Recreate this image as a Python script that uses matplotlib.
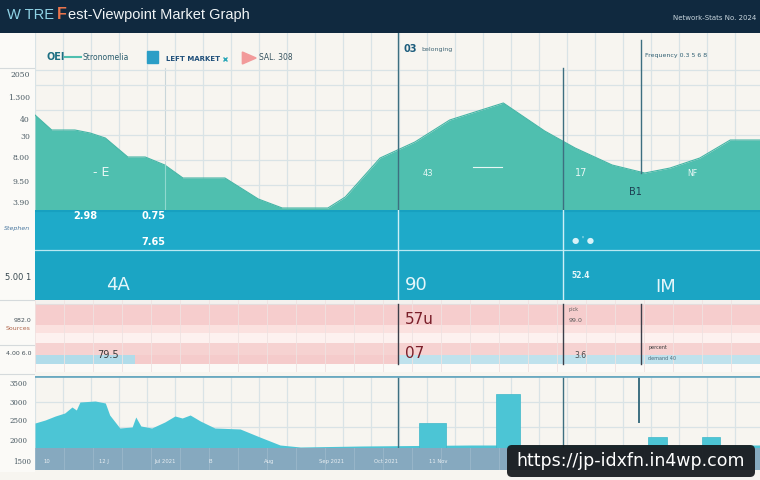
import matplotlib
matplotlib.use("Agg")
import matplotlib.pyplot as plt
from matplotlib.patches import FancyBboxPatch, Rectangle, Polygon
from matplotlib.ticker import MultipleLocator

W, H = 760, 480

def rect(x0, y0, x1, y1):
    return [x0 / W, 1 - y1 / H, (x1 - x0) / W, (y1 - y0) / H]

# ---------------- data ----------------
# upper teal area series (time index 0..100, value)
top_t = [0, 2.3, 5.5, 7.6, 9.7, 12.8, 15.2, 17.9, 20.4, 26.2, 30.8, 34.1, 40.4,
         42.8, 47.6, 52.4, 57.2, 64.6, 70.3, 74.5, 79.6, 84.1, 87.6, 91.7, 95.9, 100]
top_v = [95, 80, 80, 77, 72, 53, 53, 45, 32, 32, 11, 2, 2,
         13, 52, 68, 90, 107, 79, 62, 45, 37, 42, 52, 70, 70]

# lower cyan area series
low_t = [0, 1.4, 2.8, 4.1, 5.1, 5.7, 6.2, 8.3, 9.7, 10.3, 11.7, 13.4, 13.9, 14.6,
         16.1, 17.9, 19.3, 20.3, 21.4, 22.8, 24.8, 28.3, 31.0, 33.8, 36.6, 45, 60, 80, 100]
low_v = [25, 28, 32, 35, 41, 38, 46, 47, 45, 33, 20, 21, 31, 22,
         20, 26, 32, 30, 33, 27, 20, 19, 11, 3, 1, 2, 3, 3, 3]

# lower bars
bar_t = [54.8, 65.2, 85.9, 93.2]
bar_w = [3.7, 3.3, 2.6, 2.5]
bar_v = [25, 54, 11, 11]

top_labels = ["2050", "1.300", "40", "30", "8.00", "9.50", "3.90"]
top_label_v = [135, 112, 90, 73, 52, 28, 7]
low_labels = ["3500", "3000", "2500", "2000"]
low_label_v = [64, 45, 27, 7]
strip_labels = ["10", "12 J", "Jul 2021", "B", "Aug", "Sep 2021", "Oct 2021", "11 Nov"]

# --------------- style ---------------
BG = "#f7f5f0"
NAVY = "#10293f"
TEAL = "#4fbfaf"
BLUE = "#1eaac9"
CYAN = "#4cc5d5"
GRID = "#d9e3e6"
DARKLINE = "#3d6f80"

fig = plt.figure(figsize=(7.6, 4.8), dpi=100)
fig.patch.set_facecolor(BG)

# header
hdr = fig.add_axes(rect(0, 0, 760, 33))
hdr.set_facecolor(NAVY)
hdr.set_xticks([]); hdr.set_yticks([])
for s in hdr.spines.values():
    s.set_visible(False)
hdr.text(7 / 760, 0.55, "W TRE", color="#8fd3e6", fontsize=10.5, family="Liberation Sans",
         va="center", transform=hdr.transAxes)
hdr.text(57 / 760, 0.55, "F", color="#e9744c", fontsize=11.5, fontweight="bold",
         family="Liberation Sans", va="center", transform=hdr.transAxes)
hdr.text(68 / 760, 0.55, "est-Viewpoint Market Graph", color="#f0f4f6", fontsize=10.5,
         family="Liberation Sans", va="center", transform=hdr.transAxes)
hdr.text(0.995, 0.45, "Network-Stats No. 2024", color="#c9d6de", fontsize=5,
         ha="right", va="center", transform=hdr.transAxes)

# left label column
lc = fig.add_axes(rect(0, 33, 35, 472))
lc.set_facecolor("#fbfaf7")
lc.set_xlim(0, 1); lc.set_ylim(472, 33)
lc.set_xticks([]); lc.set_yticks([])
for s in lc.spines.values():
    s.set_visible(False)
for yy in [68, 300, 345, 374]:
    lc.axhline(yy, color="#d5dadc", lw=0.8)

# ---------------- top teal area ----------------
ax = fig.add_axes(rect(35, 33, 760, 210))
ax.set_facecolor(BG)
ax.set_xlim(0, 100)
ax.set_ylim(0, 177)
ax.xaxis.set_major_locator(MultipleLocator(3.86))
ax.set_yticks([25, 50, 75, 100, 125, 140])
ax.grid(True, color=GRID, lw=0.9)
ax.tick_params(length=0, labelbottom=False, labelleft=False)
for s in ax.spines.values():
    s.set_visible(False)
ax.fill_between(top_t, 0, top_v, color=TEAL, lw=0, zorder=2)
ax.plot(top_t, top_v, color="#45b5a6", lw=0.8, zorder=2)
# emphasised vertical lines
ax.plot([50.0, 50.0], [0, 177], color=DARKLINE, lw=1.0, zorder=3)
ax.plot([72.8, 72.8], [0, 142], color=DARKLINE, lw=1.0, zorder=3)
ax.plot([83.6, 83.6], [37, 170], color=DARKLINE, lw=1.0, zorder=3)
ax.plot([17.9, 17.9], [0, 142], color="#c9d6da", lw=0.8, zorder=1)
ax.plot([17.9, 17.9], [0, 45], color="#8fd9cf", lw=0.8, zorder=3)

for lab, v in zip(top_labels, top_label_v):
    ax.text(-0.7, v, lab, color="#4a5a63", fontsize=5.5, ha="right", va="center",
            family="DejaVu Serif", clip_on=False)

# legend row
ax.text(1.6, 153, "OEI", color="#1d6f82", fontsize=7, fontweight="bold", va="center")
ax.plot([4.2, 6.3], [153, 153], color=TEAL, lw=1.5)
ax.text(6.6, 153, "Stronomelia", color="#2a5d6e", fontsize=5.5, va="center")
ax.add_patch(Rectangle((15.5, 147), 1.4, 12, color="#2b9ec6", zorder=4))
ax.text(18, 151, "LEFT MARKET", color="#1f4f7a", fontsize=5, va="center", fontweight="bold")
ax.plot([26.2], [151], marker="x", color="#2aa7b8", ms=3)
ax.add_patch(Polygon([[28.6, 146], [28.6, 158], [30.5, 152]], closed=True,
                     color="#f29a9a", zorder=4))
ax.text(30.9, 153, "SAL. 308", color="#36535f", fontsize=5.5, va="center")
ax.text(50.8, 161, "03", color="#1c5c7c", fontsize=7, fontweight="bold", va="center")
ax.text(53.3, 160, "belonging", color="#3f6575", fontsize=4.5, va="center")
ax.text(84.2, 155, "Frequency 0.3 5 6 8", color="#2f5f72", fontsize=4.5, va="center")

# texts inside the teal area
ax.text(8.0, 37, "- E", color="#e8f7f5", fontsize=9, va="center", zorder=4)
ax.text(53.5, 37, "43", color="#e8f7f5", fontsize=6, va="center", zorder=4)
ax.plot([60.4, 64.4], [43, 43], color="#e8f7f5", lw=0.8, zorder=4)
ax.text(74.5, 37, "17", color="#e8f7f5", fontsize=7, va="center", zorder=4)
ax.text(82.0, 18, "B1", color="#1d3f52", fontsize=7, va="center", zorder=4)
ax.text(90.0, 37, "NF", color="#e8f7f5", fontsize=5.5, va="center", zorder=4)

# ---------------- blue band ----------------
bb = fig.add_axes(rect(35, 210, 760, 300))
bb.set_facecolor(BLUE)
bb.set_xlim(0, 100); bb.set_ylim(0, 90)
bb.set_xticks([]); bb.set_yticks([])
for s in bb.spines.values():
    s.set_visible(False)
bb.axhspan(0, 50, color="#1ba5c4", lw=0)
bb.axhline(50, color="#b9e8f2", lw=0.9)
bb.axhline(89, color="#17a0c0", lw=1.5)
bb.axvline(50.0, color="#cdeff6", lw=1.0)
bb.axvline(72.8, color="#cdeff6", lw=1.0)
bb.text(5.3, 84, "2.98", color="white", fontsize=7, fontweight="bold", va="center")
bb.text(14.7, 84, "0.75", color="white", fontsize=7, fontweight="bold", va="center")
bb.text(14.7, 58, "7.65", color="white", fontsize=7, fontweight="bold", va="center")
bb.text(9.8, 15, "4A", color="#e4f6fa", fontsize=13, va="center")
bb.text(51.0, 15, "90", color="#e4f6fa", fontsize=13, va="center")
bb.text(74.0, 24, "52.4", color="#e4f6fa", fontsize=5.5, va="center", fontweight="bold")
bb.text(85.5, 13, "IM", color="#e4f6fa", fontsize=13, va="center")
bb.text(74.0, 60, "● ' ●", color="#d7f2f8", fontsize=6, va="center")
fig.text(30 / 760, 1 - 230 / 480, "Stephen", color="#4a78a0", fontsize=4.5, ha="right",
         style="italic")
fig.text(31 / 760, 1 - 280 / 480, "5.00 1", color="#384850", fontsize=6, ha="right")

# ---------------- pink striped band ----------------
pk = fig.add_axes(rect(35, 300, 760, 372))
pk.set_facecolor("#fdf6f4")
pk.set_xlim(0, 100); pk.set_ylim(72, 0)
pk.set_xticks([]); pk.set_yticks([])
for s in pk.spines.values():
    s.set_visible(False)
stripes = [(0, 4, "#f4f1ee"), (4, 25, "#f6cdcd"), (25, 33, "#fbe1df"),
           (33, 43, "#fdf1ef"), (43, 55, "#f6d2d1"), (55, 64, "#f5cbcb"), (64, 72, "#fbf9f6")]
for a, b, c in stripes:
    pk.axhspan(a, b, color=c, lw=0)
pk.axhline(4, color="#e4dede", lw=0.8)
pk.add_patch(Rectangle((0, 55), 13.8, 9, color="#b1dcea", lw=0))
pk.add_patch(Rectangle((50, 55), 50, 9, color="#bfe2ed", lw=0))
for xv in range(0, 101, 4):
    pk.axvline(xv, color="#efe2e1", lw=0.6)
pk.plot([50, 50], [4, 64], color="#3b3f4a", lw=1.0)
pk.plot([72.8, 72.8], [4, 64], color="#3b3f4a", lw=1.0)
pk.plot([83.6, 83.6], [4, 64], color="#3b3f4a", lw=1.0)
pk.text(51.0, 20, "57u", color="#7a1f2a", fontsize=11, va="center")
pk.text(51.0, 53, "07", color="#7a1f2a", fontsize=11, va="center")
pk.text(8.6, 55, "79.5", color="#3a3a3a", fontsize=7, va="center")
pk.text(73.6, 10, "pick", color="#5a5a5a", fontsize=3.5, va="center")
pk.text(73.6, 20, "99.0", color="#5a5a5a", fontsize=4.5, va="center")
pk.text(74.4, 55, "3.6", color="#4a4a4a", fontsize=5.5, va="center")
pk.text(84.6, 48, "percent", color="#3a3a3a", fontsize=3.5, va="center")
pk.text(84.6, 59, "demand 40", color="#4a6a7a", fontsize=3.5, va="center")
fig.text(31 / 760, 1 - 330 / 480, "Sources", color="#b0654a", fontsize=4.5, ha="right")
fig.text(31 / 760, 1 - 322 / 480, "982.0", color="#445058", fontsize=4.5, ha="right")
fig.text(31 / 760, 1 - 355 / 480, "4.00 6.0", color="#445058", fontsize=4.5, ha="right")

# ---------------- lower area + bars ----------------
lo = fig.add_axes(rect(35, 376, 760, 448))
lo.set_facecolor(BG)
lo.set_xlim(0, 100); lo.set_ylim(0, 72)
lo.xaxis.set_major_locator(MultipleLocator(3.86))
lo.set_yticks([21, 46])
lo.grid(True, color=GRID, lw=0.9)
lo.tick_params(length=0, labelbottom=False, labelleft=False)
for s in lo.spines.values():
    s.set_visible(False)
lo.axhline(72, color="#6aa9c0", lw=2.0, zorder=5)
lo.fill_between(low_t, 0, low_v, color=CYAN, lw=0, zorder=2)
lo.bar(bar_t, bar_v, width=bar_w, color=CYAN, edgecolor="#3fb8c9", lw=0.5, zorder=2)
lo.plot([50.0, 50.0], [0, 72], color=DARKLINE, lw=1.0, zorder=3)
lo.plot([72.8, 72.8], [0, 72], color=DARKLINE, lw=1.0, zorder=3)
lo.plot([83.3, 83.3], [26, 72], color=DARKLINE, lw=1.4, zorder=3)
for lab, v in zip(low_labels, low_label_v):
    lo.text(-1.0, v, lab, color="#4a5a63", fontsize=5, ha="right", va="center",
            family="DejaVu Serif", clip_on=False)

# bottom strip
bs = fig.add_axes(rect(35, 448, 760, 470))
bs.set_facecolor("#86a9bf")
bs.set_xlim(0, 100); bs.set_ylim(0, 1)
bs.set_xticks([]); bs.set_yticks([])
for s in bs.spines.values():
    s.set_visible(False)
for xv in range(0, 101, 4):
    bs.axvline(xv, color="#9bb8ca", lw=0.6)
for i, lab in enumerate(strip_labels):
    bs.text(1.2 + i * 7.6, 0.4, lab, color="#e8eef2", fontsize=3.8, va="center")
fig.text(31 / 760, 1 - 462 / 480, "1500", color="#4a5a63", fontsize=5, ha="right",
         va="center", family="DejaVu Serif")

# watermark box
wm = fig.add_axes([0, 0, 1, 1], facecolor="none")
wm.set_xlim(0, W); wm.set_ylim(H, 0)
wm.axis("off")
wm.add_patch(FancyBboxPatch((507, 445), 248, 32, boxstyle="round,pad=0,rounding_size=5",
                            fc="#15181b", ec="none", alpha=0.92))
wm.text(631, 461, "https://jp-idxfn.in4wp.com", color="white", fontsize=12.5,
        ha="center", va="center")

fig.savefig("out.png", dpi=100, facecolor=fig.get_facecolor())
